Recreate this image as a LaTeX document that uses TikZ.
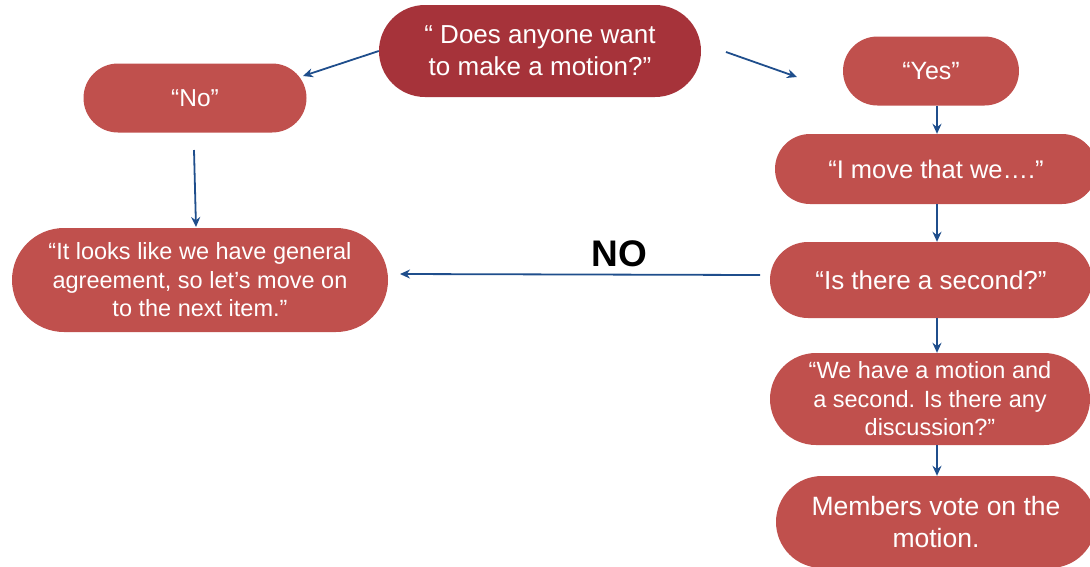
\documentclass[tikz,border=0pt]{standalone}
\usepackage{fontspec}
\setmainfont{Liberation Sans}
\usetikzlibrary{arrows.meta,positioning}
\definecolor{rojo}{RGB}{192,80,77}
\definecolor{rojoosc}{RGB}{166,51,58}
\definecolor{azul}{RGB}{31,78,140}

\begin{document}
\begin{tikzpicture}[x=1pt,y=-1pt]
\tikzstyle{paso}=[rectangle, fill=rojo, text=white, align=center, inner sep=0pt, font=\fontsize{26}{32}\selectfont]
\tikzstyle{chico}=[font=\fontsize{23.5}{28.5}\selectfont]
\tikzstyle{flecha}=[-{Stealth[length=10pt,width=9pt]}, azul, line width=1.8pt]

\useasboundingbox (0,0) rectangle (1090,566);
\clip (0,0) rectangle (1090,566);

%%%%%%%%%%%%%%%%%%%%%%%%%%%%%%
%%%%%
%%%%% POSICIONES
\coordinate (q) at (540,51);
\coordinate (no) at (195,98);
\coordinate (acuerdo) at (200,280);

\coordinate (si) at (931,71);
\coordinate (mocion) at (936,169);
\coordinate (segundo) at (931,280);
\coordinate (discusion) at (930,399);
\coordinate (voto) at (936,522);

%%%%% PUNTOS SUELTOS
\coordinate (eje) at (937,0);
\coordinate (noFin) at (303,76);
\coordinate (siIni) at (726,52);
\coordinate (siFin) at (797,77);
\coordinate (noBajo) at (194,150);
\coordinate (noBajoFin) at (196,227);
\coordinate (noIni) at (760,275);
\coordinate (noTip) at (400,274);

%%%%%%%%%%%%%%%
%%%%% PREGUNTA
\node[paso, fill=rojoosc, minimum width=322pt, minimum height=92pt, rounded corners=46pt] (q) at (q) {“ Does anyone want\\to make a motion?”};

%%%%% RAMA NO
\node[paso, font=\fontsize{24.5}{30}\selectfont, minimum width=223pt, minimum height=69pt, rounded corners=34.5pt] (no) at (no) {“No”};
\node[paso, chico, minimum width=376pt, minimum height=104pt, rounded corners=52pt] (acuerdo) at (acuerdo) {“It looks like we have general\\agreement, so let’s move on\\to the next item.”};

%%%%% RAMA SI
\node[paso, font=\fontsize{25}{30}\selectfont, minimum width=176pt, minimum height=69pt, rounded corners=34.5pt] (si) at (si) {“Yes”};
\node[paso, font=\fontsize{25.5}{30}\selectfont, minimum width=322pt, minimum height=70pt, rounded corners=35pt] (mocion) at (mocion) {“I move that we….”};
\node[paso, minimum width=322pt, minimum height=76pt, rounded corners=38pt] (segundo) at (segundo) {“Is there a second?”};
\node[paso, chico, minimum width=320pt, minimum height=92pt, rounded corners=46pt] (discusion) at (discusion) {“We have a motion and\\a second. Is there any\\discussion?”};
\node[paso, font=\fontsize{26.5}{32}\selectfont, minimum width=320pt, minimum height=92pt, rounded corners=46pt] (voto) at (voto) {Members vote on the\\motion.};

%%%%%%%%%%%%%%%
%%%%% CONEXIONES
\draw[flecha] (q.west) -- (noFin);
\draw[flecha] (siIni) -- (siFin);
\draw[flecha] (noBajo) -- (noBajoFin);

\draw[flecha] (si.south -| eje) -- (mocion.north -| eje);
\draw[flecha] (mocion.south -| eje) -- (segundo.north -| eje);
\draw[flecha] (segundo.south -| eje) -- (discusion.north -| eje);
\draw[flecha] (discusion.south -| eje) -- (voto.north -| eje);

\draw[flecha] (noIni) -- node[above=4pt, pos=0.39, text=black, font=\fontsize{37}{37}\selectfont\bfseries] (etiqueta) {NO} (noTip);

\end{tikzpicture}
\end{document}
